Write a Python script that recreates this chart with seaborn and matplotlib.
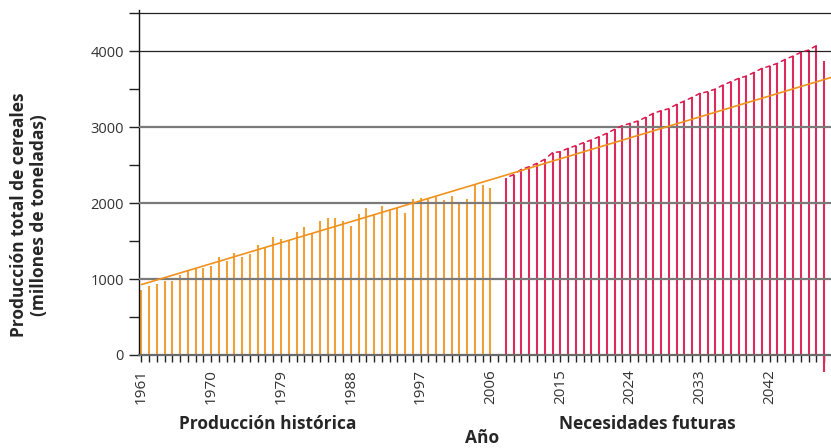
import numpy as np
import pandas as pd
import seaborn as sns
import matplotlib.pyplot as plt

# historical production (orange) and future needs (magenta), millions of tonnes
hist_years = list(range(1961, 2007))
hist_vals = [855, 908, 930, 974, 974, 1053, 1114, 1132, 1149, 1175,
             1285, 1241, 1346, 1294, 1329, 1447, 1417, 1557, 1522, 1513,
             1618, 1680, 1609, 1763, 1803, 1803, 1763, 1701, 1851, 1938,
             1859, 1961, 1908, 1930, 1872, 2049, 2070, 2057, 2083, 2039,
             2096, 1987, 2057, 2246, 2237, 2193]
needs_years = list(range(2008, 2050))
needs_vals = [2333, 2373, 2443, 2478, 2522, 2575, 2662, 2675, 2719, 2754,
              2794, 2829, 2873, 2917, 2970, 3018, 3048, 3079, 3127, 3180,
              3215, 3241, 3298, 3342, 3390, 3443, 3465, 3500, 3553, 3596,
              3640, 3671, 3719, 3772, 3803, 3838, 3890, 3934, 3982, 4013,
              4070, 3873]
last_bar_low = -220

trend_years = [1961, 2050]
trend_vals = [926, 3655]

label_years = list(range(1961, 2050, 9))
grid_gray = [1000, 2000, 3000]
grid_black = [4000, 4500]

sns.set_style("white")
plt.rcParams['font.family'] = ['Open Sans', 'DejaVu Sans']
plt.rcParams['font.size'] = 10.5

df = pd.DataFrame({
    'year': hist_years + needs_years,
    'value': hist_vals + needs_vals,
    'period': ['hist'] * len(hist_years) + ['needs'] * len(needs_years),
})
colors = {'hist': '#F0A038', 'needs': '#DC2A5A'}

fig = plt.figure(figsize=(8.31, 4.48), dpi=100)
ax = fig.add_axes([0.1673, 0.2076, 0.8327, 0.7701])

for v in grid_gray:
    ax.axhline(v, color='#7a7a7a', lw=1.6, zorder=3)
for v in grid_black:
    ax.axhline(v, color='#222222', lw=0.9, zorder=3)

# thin bars as vertical strokes
for period, grp in df.groupby('period'):
    ax.vlines(grp['year'], 0, grp['value'], color=colors[period], lw=1.5, zorder=2)

# last needs bar runs below the axis in the original
ax.vlines(needs_years[-1], last_bar_low, 0, color=colors['needs'], lw=1.5,
          clip_on=False, zorder=2)

# dashed needs line: short segments leading into each rising bar top
ny = np.array(needs_years, dtype=float)
nv = np.array(needs_vals, dtype=float)
seg_x, seg_y = [], []
for i in range(1, len(ny)):
    if nv[i] >= nv[i - 1]:
        seg_x += [ny[i] - 0.5, ny[i], np.nan]
        seg_y += [(nv[i - 1] + nv[i]) / 2, nv[i], np.nan]
ax.plot(seg_x, seg_y, color='#D81B4E', lw=1.1, zorder=4)

sns.lineplot(x=trend_years, y=trend_vals, color='#F0921E', lw=1.2, ax=ax, zorder=5)

ax.set_xlim(1960.7, 2049.9)
ax.set_ylim(0, 4540)
ax.set_yticks(range(0, 5000, 1000))
ax.set_yticks(range(500, 5000, 1000), minor=True)
ax.set_xticks(label_years)
ax.set_xticks(range(1961, 2050), minor=True)
ax.set_xticklabels([str(y) for y in label_years], rotation=90)
ax.tick_params(axis='y', which='both', direction='out', length=7, width=1, color='#222222',
               left=True, pad=4, labelsize=10.5, labelcolor='#333333')
ax.tick_params(axis='x', which='both', direction='out', length=5, width=1, color='#222222',
               bottom=True, pad=5, labelsize=11, labelcolor='#333333')
for s in ['top', 'right']:
    ax.spines[s].set_visible(False)
ax.spines['left'].set_color('#111111')
ax.spines['left'].set_linewidth(1.0)
ax.spines['bottom'].set_color('#6a6a6a')
ax.spines['bottom'].set_linewidth(1.6)
ax.set_xlabel('')
ax.set_ylabel('')

fig.text(29 / 831, 1 - 215 / 448, 'Producción total de cereales\n(millones de toneladas)',
         rotation=90, ha='center', va='center', fontsize=12.5, fontweight='bold',
         linespacing=1.15)
fig.text(268 / 831, 1 - 424 / 448, 'Producción histórica', ha='center', va='center',
         fontsize=12.5, fontweight='bold')
fig.text(647 / 831, 1 - 424 / 448, 'Necesidades futuras', ha='center', va='center',
         fontsize=12.5, fontweight='bold')
fig.text(482 / 831, 1 - 438 / 448, 'Año', ha='center', va='center',
         fontsize=12.5, fontweight='bold')

fig.savefig('out.png', dpi=100)
